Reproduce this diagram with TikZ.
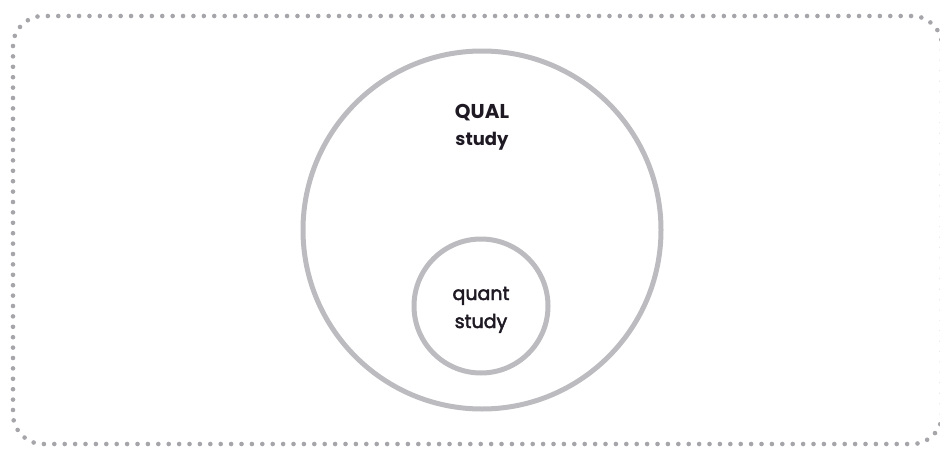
\documentclass[tikz,border=0pt]{standalone}
\usepackage{fontspec}
\setmainfont{Poppins}
\newfontfamily\medfont[FakeBold=2.5]{Poppins}
\definecolor{ringgray}{RGB}{188,188,192}
\definecolor{dotgray}{RGB}{165,165,170}
\definecolor{txt}{RGB}{30,25,35}
\begin{document}
\begin{tikzpicture}[x=1pt,y=-1pt,
  ring/.style={draw=ringgray,line width=5pt,circle,inner sep=0pt},
  lbl/.style={text=txt,anchor=base,inner sep=0pt}]
\useasboundingbox (0,0) rectangle (940,450);
\draw[dotgray,line width=4.6pt,line cap=round,dash pattern=on 0pt off 10.4pt,rounded corners=30pt]
  (13,16) rectangle (942,444);
\node[ring,minimum size=358pt] (big) at (482,230) {};
\node[ring,minimum size=134pt] (small) at (481,306) {};
\node[lbl,font=\fontsize{20}{24}\selectfont\bfseries] (qual) at (482,118) {QUAL};
\node[lbl,font=\fontsize{18}{22}\selectfont\bfseries] (qstudy) at (482,145) {study};
\node[lbl,font=\fontsize{19}{22}\medfont] (quant) at (481,300) {quant};
\node[lbl,font=\fontsize{19}{22}\medfont] (sstudy) at (481,328) {study};
\end{tikzpicture}
\end{document}
